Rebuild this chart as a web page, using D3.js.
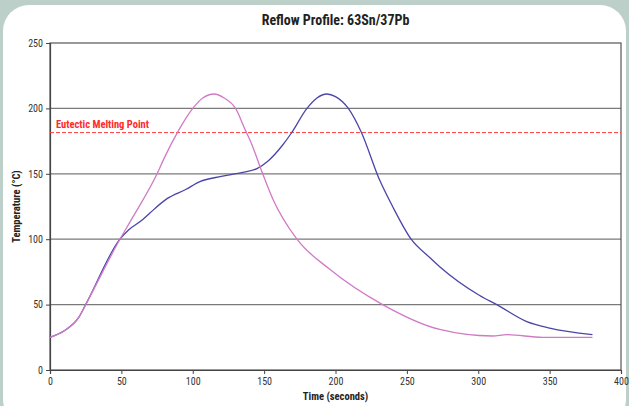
<!DOCTYPE html>
<html>
<head>
<meta charset="utf-8">
<script src="https://cdn.jsdelivr.net/npm/d3@7"></script>
<style>
  html, body { margin: 0; padding: 0; background: #bccfc9; }
  svg { display: block; }
  text { font-family: "Liberation Sans Narrow", "Roboto Condensed", "Arial Narrow", sans-serif; }
</style>
</head>
<body>
<div id="chart"></div>
<script>
// Reflow profile data (time in seconds, temperature in °C)
const fastTime = [0, 10, 20, 25, 49, 57, 75, 80, 90, 100, 107, 115, 122, 130, 137, 140, 149, 156, 173, 196, 233, 273, 310, 320, 345, 380];
const fastTemp = [25, 30, 40, 50, 100, 115, 150, 162, 183, 200, 208, 211, 208, 200, 183, 176, 150, 131, 100, 77, 50, 31, 26, 27, 25, 25];

const slowTime = [0, 10, 20, 25, 49, 55, 65, 70, 82, 95, 105, 120, 135, 145, 153, 163, 169, 180, 187, 194, 200, 209, 218, 231, 240, 253, 266, 273, 301, 313, 334, 350, 380];
const slowTemp = [25, 30, 40, 50, 100, 107, 115, 120, 131, 138, 144, 148, 151, 154, 160, 172, 181, 200, 208, 211, 209, 200, 182, 145, 125, 100, 86, 79, 57, 50, 37, 32, 27];

const xTicks = [0, 50, 100, 150, 200, 250, 300, 350, 400];
const yTicks = [0, 50, 100, 150, 200, 250];
const eutectic = 181.5;

const width = 629, height = 406;
const margin = { top: 43, right: 8, bottom: 36, left: 50 };

const svg = d3.select("#chart").append("svg")
  .attr("width", width)
  .attr("height", height);

// White rounded panel
svg.append("rect")
  .attr("x", 3).attr("y", 5)
  .attr("width", 623).attr("height", 420)
  .attr("rx", 26).attr("ry", 26)
  .attr("fill", "#ffffff");

const x = d3.scaleLinear().domain([0, 400]).range([margin.left, width - margin.right]);
const y = d3.scaleLinear().domain([0, 250]).range([height - margin.bottom, margin.top]);

// Gridlines
svg.append("g")
  .selectAll("line")
  .data(yTicks.filter(d => d > 0 && d < 250))
  .enter()
  .append("line")
  .attr("x1", x(0)).attr("x2", x(400))
  .attr("y1", d => y(d)).attr("y2", d => y(d))
  .attr("stroke", "#7a7a7a")
  .attr("stroke-width", 1.2);

// Plot frame
svg.append("rect")
  .attr("x", x(0)).attr("y", y(250))
  .attr("width", x(400) - x(0)).attr("height", y(0) - y(250))
  .attr("fill", "none")
  .attr("stroke", "#555")
  .attr("stroke-width", 1.2);

// Axes
const xAxis = svg.append("g")
  .attr("transform", `translate(0,${y(0)})`)
  .call(d3.axisBottom(x).tickValues(xTicks).tickSize(4).tickPadding(4));
const yAxis = svg.append("g")
  .attr("transform", `translate(${x(0)},0)`)
  .call(d3.axisLeft(y).tickValues(yTicks).tickSize(4).tickPadding(3));

[xAxis, yAxis].forEach(a => {
  a.select(".domain").attr("stroke", "#444").attr("stroke-width", 1.2);
  a.selectAll(".tick line").attr("stroke", "#444");
  a.selectAll(".tick text").attr("fill", "#333").style("font-size", "10px");
});

// Eutectic melting point
svg.append("line")
  .attr("x1", x(0)).attr("x2", x(400))
  .attr("y1", y(eutectic)).attr("y2", y(eutectic))
  .attr("stroke", "#ff3b3b")
  .attr("stroke-width", 1)
  .attr("stroke-dasharray", "4,2");

svg.append("text")
  .attr("x", x(0) + 6)
  .attr("y", y(eutectic) - 5)
  .attr("fill", "#ff2a2a")
  .attr("font-weight", "bold")
  .style("font-size", "10.5px")
  .text("Eutectic Melting Point");

// Profile lines
const line = d3.line()
  .x(d => x(d[0]))
  .y(d => y(d[1]))
  .curve(d3.curveMonotoneX);

svg.append("path")
  .datum(slowTime.map((t, i) => [t, slowTemp[i]]))
  .attr("d", line)
  .attr("fill", "none")
  .attr("stroke", "#4b45a8")
  .attr("stroke-width", 1.3);

svg.append("path")
  .datum(fastTime.map((t, i) => [t, fastTemp[i]]))
  .attr("d", line)
  .attr("fill", "none")
  .attr("stroke", "#d07ac6")
  .attr("stroke-width", 1.3);

// Titles
svg.append("text")
  .attr("x", (x(0) + x(400)) / 2)
  .attr("y", 25)
  .attr("text-anchor", "middle")
  .attr("font-weight", "bold")
  .attr("fill", "#222")
  .style("font-size", "14px")
  .text("Reflow Profile: 63Sn/37Pb");

svg.append("text")
  .attr("x", (x(0) + x(400)) / 2)
  .attr("y", 400)
  .attr("text-anchor", "middle")
  .attr("font-weight", "bold")
  .attr("fill", "#222")
  .style("font-size", "10.5px")
  .text("Time (seconds)");

svg.append("text")
  .attr("transform", `translate(20,${(y(0) + y(250)) / 2}) rotate(-90)`)
  .attr("text-anchor", "middle")
  .attr("font-weight", "bold")
  .attr("fill", "#222")
  .style("font-size", "10.5px")
  .text("Temperature (°C)");
</script>
</body>
</html>
